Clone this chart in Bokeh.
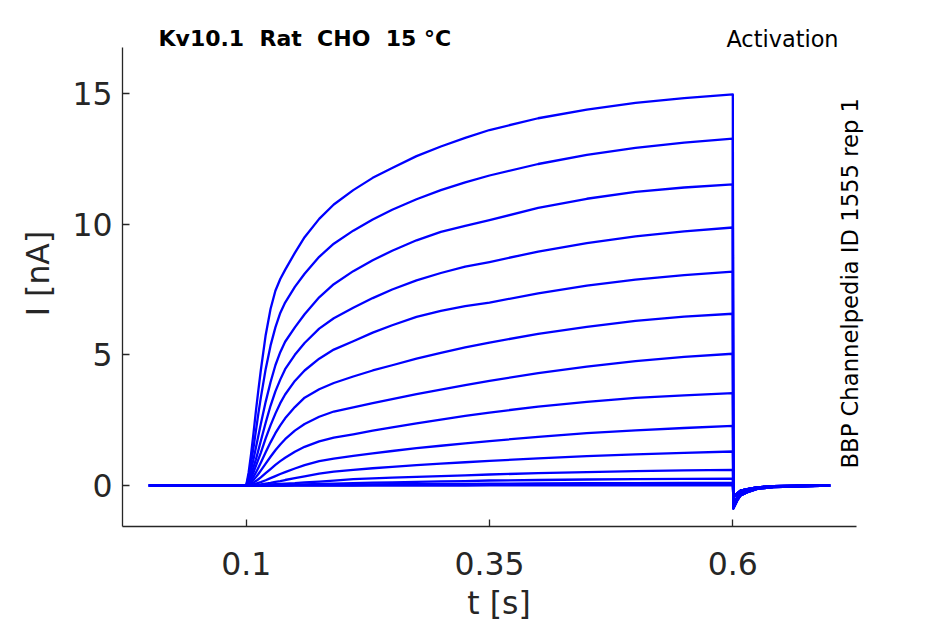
from bokeh.plotting import figure
from bokeh.models import FixedTicker, Label, Range1d
from bokeh.embed import file_html
from bokeh.resources import INLINE

# ---------------- data ----------------
PRE_T = [0.0]
T = [0.1, 0.1025, 0.105, 0.1075, 0.11, 0.1125, 0.115, 0.12, 0.125, 0.13, 0.135, 0.14,
     0.15, 0.16, 0.175, 0.19, 0.21, 0.23, 0.25, 0.275, 0.3, 0.325, 0.35, 0.4, 0.45,
     0.5, 0.55, 0.6]

I1 = [0, 0.5, 1.2, 2.0, 2.85, 3.65, 4.4, 5.75, 6.75, 7.45, 7.9, 8.25, 8.9, 9.5, 10.2,
      10.75, 11.3, 11.77, 12.15, 12.6, 12.97, 13.3, 13.6, 14.05, 14.38, 14.64, 14.82, 14.96]
I2 = [0, 0.35, 0.85, 1.45, 2.1, 2.75, 3.35, 4.45, 5.35, 6.05, 6.6, 7.0, 7.6, 8.1, 8.75,
      9.25, 9.75, 10.18, 10.55, 10.95, 11.3, 11.6, 11.86, 12.3, 12.65, 12.92, 13.12, 13.27]
I3 = [0, 0.25, 0.6, 1.0, 1.45, 1.9, 2.35, 3.2, 3.95, 4.6, 5.1, 5.5, 6.05, 6.55, 7.2,
      7.7, 8.2, 8.62, 8.98, 9.38, 9.7, 9.93, 10.15, 10.62, 10.97, 11.23, 11.4, 11.52]
I4 = [0, 0.15, 0.4, 0.7, 1.0, 1.35, 1.7, 2.4, 3.05, 3.6, 4.05, 4.45, 5.0, 5.45, 6.0,
      6.4, 6.8, 7.17, 7.5, 7.85, 8.13, 8.37, 8.55, 8.95, 9.27, 9.53, 9.72, 9.87]
I5 = [0, 0.1, 0.28, 0.5, 0.75, 1.0, 1.25, 1.8, 2.3, 2.75, 3.15, 3.48, 4.0, 4.4, 4.85,
      5.2, 5.52, 5.85, 6.13, 6.45, 6.68, 6.86, 7.0, 7.35, 7.65, 7.88, 8.05, 8.18]
I6 = [0, 0.07, 0.18, 0.33, 0.5, 0.68, 0.87, 1.27, 1.65, 2.0, 2.3, 2.57, 3.0, 3.36, 3.68,
      3.92, 4.17, 4.4, 4.6, 4.85, 5.07, 5.28, 5.47, 5.8, 6.07, 6.3, 6.46, 6.57]
I7 = [0, 0.04, 0.11, 0.21, 0.32, 0.44, 0.57, 0.84, 1.1, 1.35, 1.57, 1.77, 2.1, 2.35, 2.63,
      2.83, 2.99, 3.15, 3.3, 3.5, 3.67, 3.84, 4.0, 4.3, 4.55, 4.76, 4.92, 5.04]
I8 = [0, 0.02, 0.06, 0.11, 0.17, 0.24, 0.31, 0.47, 0.63, 0.79, 0.93, 1.06, 1.29, 1.48, 1.69,
      1.83, 1.96, 2.1, 2.22, 2.38, 2.52, 2.66, 2.79, 3.02, 3.2, 3.35, 3.45, 3.53]
I9 = [0, 0.01, 0.02, 0.04, 0.07, 0.1, 0.13, 0.2, 0.28, 0.36, 0.44, 0.51, 0.65, 0.78, 0.93,
      1.03, 1.13, 1.23, 1.32, 1.43, 1.52, 1.61, 1.7, 1.86, 2.0, 2.11, 2.2, 2.28]
I10 = [0, 0, 0.01, 0.01, 0.02, 0.03, 0.04, 0.07, 0.1, 0.14, 0.17, 0.21, 0.28, 0.35, 0.45,
       0.53, 0.6, 0.66, 0.71, 0.78, 0.84, 0.89, 0.94, 1.04, 1.12, 1.19, 1.25, 1.30]
I11 = [0, 0, 0, 0.01, 0.01, 0.01, 0.02, 0.03, 0.04, 0.05, 0.06, 0.07, 0.09, 0.12, 0.15,
       0.19, 0.24, 0.27, 0.3, 0.33, 0.36, 0.39, 0.42, 0.47, 0.51, 0.55, 0.58, 0.60]
I12 = [0, 0, 0, 0, 0, 0, 0.01, 0.01, 0.01, 0.02, 0.02, 0.03, 0.03, 0.04, 0.06, 0.07,
       0.09, 0.11, 0.12, 0.14, 0.16, 0.17, 0.19, 0.21, 0.23, 0.24, 0.25, 0.26]
I13 = [0, 0, 0, 0, 0, 0, 0, 0, 0.01, 0.01, 0.01, 0.01, 0.02, 0.02, 0.02, 0.03, 0.03,
       0.04, 0.05, 0.05, 0.06, 0.06, 0.07, 0.08, 0.09, 0.09, 0.1, 0.1]
I14 = [0, 0, 0, 0, 0, 0, 0, 0, 0, 0, 0, 0, 0.01, 0.01, 0.01, 0.01, 0.01, 0.02, 0.02,
       0.02, 0.02, 0.03, 0.03, 0.03, 0.03, 0.04, 0.04, 0.04]
I15 = [0, 0, 0, 0, 0, 0, 0, 0, 0, 0, 0, 0, 0, 0, 0, 0, 0, 0, 0, 0, 0, 0, 0.01, 0.01,
       0.01, 0.01, 0.01, 0.01]
TRACES = [I1, I2, I3, I4, I5, I6, I7, I8, I9, I10, I11, I12, I13, I14, I15]

TAIL_T = [0.6005, 0.6045, 0.608, 0.615, 0.625, 0.642, 0.67, 0.7]
TAIL_DEEP = [-0.88, -0.57, -0.38, -0.26, -0.13, -0.06, -0.03, 0.0]
TAIL_MID = [-0.68, -0.45, -0.3, -0.2, -0.1, -0.05, -0.02, 0.0]
TAIL_SHALLOW = [-0.45, -0.3, -0.2, -0.14, -0.07, -0.03, -0.01, 0.0]

X_TICKS = [0.1, 0.35, 0.6]
X_TICK_LABELS = ["0.1", "0.35", "0.6"]
Y_TICKS = [0, 5, 10, 15]
Y_TICK_LABELS = ["0", "5", "10", "15"]

NB = "\u00a0"
TITLE = "Kv10.1" + NB + " Rat" + NB + " CHO" + NB + " 15 °C"
PROTOCOL = "Activation"
SOURCE = "BBP Channelpedia ID 1555 rep 1"

# ---------------- figure ----------------
FONT = "DejaVu Sans"
DARK = "#262626"
X0, X1 = -0.0271, 0.727     # axes extent (time)
Y0, Y1 = -1.569, 16.76      # axes extent (current)

p = figure(frame_width=753, frame_height=506,
           min_border_left=122, min_border_top=20,
           min_border_right=50, min_border_bottom=94,
           x_range=Range1d(X0, 0.7466), y_range=Range1d(Y0, 17.79),
           output_backend="svg", toolbar_location=None)
p.outline_line_color = None
p.background_fill_color = "white"
p.border_fill_color = "white"
p.xgrid.visible = False
p.ygrid.visible = False

xs, ys = [], []
for k, tr in enumerate(TRACES):
    tail = TAIL_DEEP if k < 4 else (TAIL_MID if k < 8 else TAIL_SHALLOW)
    xs.append(PRE_T + T + TAIL_T)
    ys.append([0.0] + tr + tail)
p.multi_line(xs, ys, line_color="#0000ff", line_width=2.3, line_join="round")

for ax, ticks, labels in ((p.xaxis, X_TICKS, X_TICK_LABELS), (p.yaxis, Y_TICKS, Y_TICK_LABELS)):
    ax.ticker = FixedTicker(ticks=ticks)
    ax.major_label_overrides = {t: l for t, l in zip(ticks, labels)}
    ax.axis_line_color = DARK
    ax.axis_line_width = 1.3
    ax.major_tick_line_color = DARK
    ax.major_tick_line_width = 1.3
    ax.major_tick_in = 7
    ax.major_tick_out = 0
    ax.minor_tick_line_color = None
    ax.major_label_text_font = FONT
    ax.major_label_text_font_size = "31.5px"
    ax.major_label_text_color = DARK
    ax.axis_label_text_font = FONT
    ax.axis_label_text_font_size = "31.5px"
    ax.axis_label_text_font_style = "normal"
    ax.axis_label_text_color = DARK

p.xaxis.bounds = (X0, X1)
p.yaxis.bounds = (Y0, Y1)
p.xaxis.axis_label = "t [s]"
p.yaxis.axis_label = "I [nA]"
p.xaxis.major_label_standoff = 25
p.yaxis.major_label_standoff = 10
p.xaxis.axis_label_standoff = 7
p.yaxis.axis_label_standoff = 13

p.add_layout(Label(x=0.0099, y=17.09, text=TITLE, text_font=FONT, text_font_style="bold",
                   text_font_size="22px", text_color="black", text_baseline="alphabetic",
                   text_align="left"))
p.add_layout(Label(x=0.7086, y=17.09, text=PROTOCOL, text_font=FONT,
                   text_font_size="22.4px", text_color="black", text_baseline="alphabetic",
                   text_align="right"))
p.add_layout(Label(x=0.7204, y=0.65, text=SOURCE, text_font=FONT, angle=90, angle_units="deg",
                   text_font_size="22.7px", text_color="black", text_baseline="alphabetic",
                   text_align="left"))

open("out.html", "w").write(file_html(p, INLINE))
